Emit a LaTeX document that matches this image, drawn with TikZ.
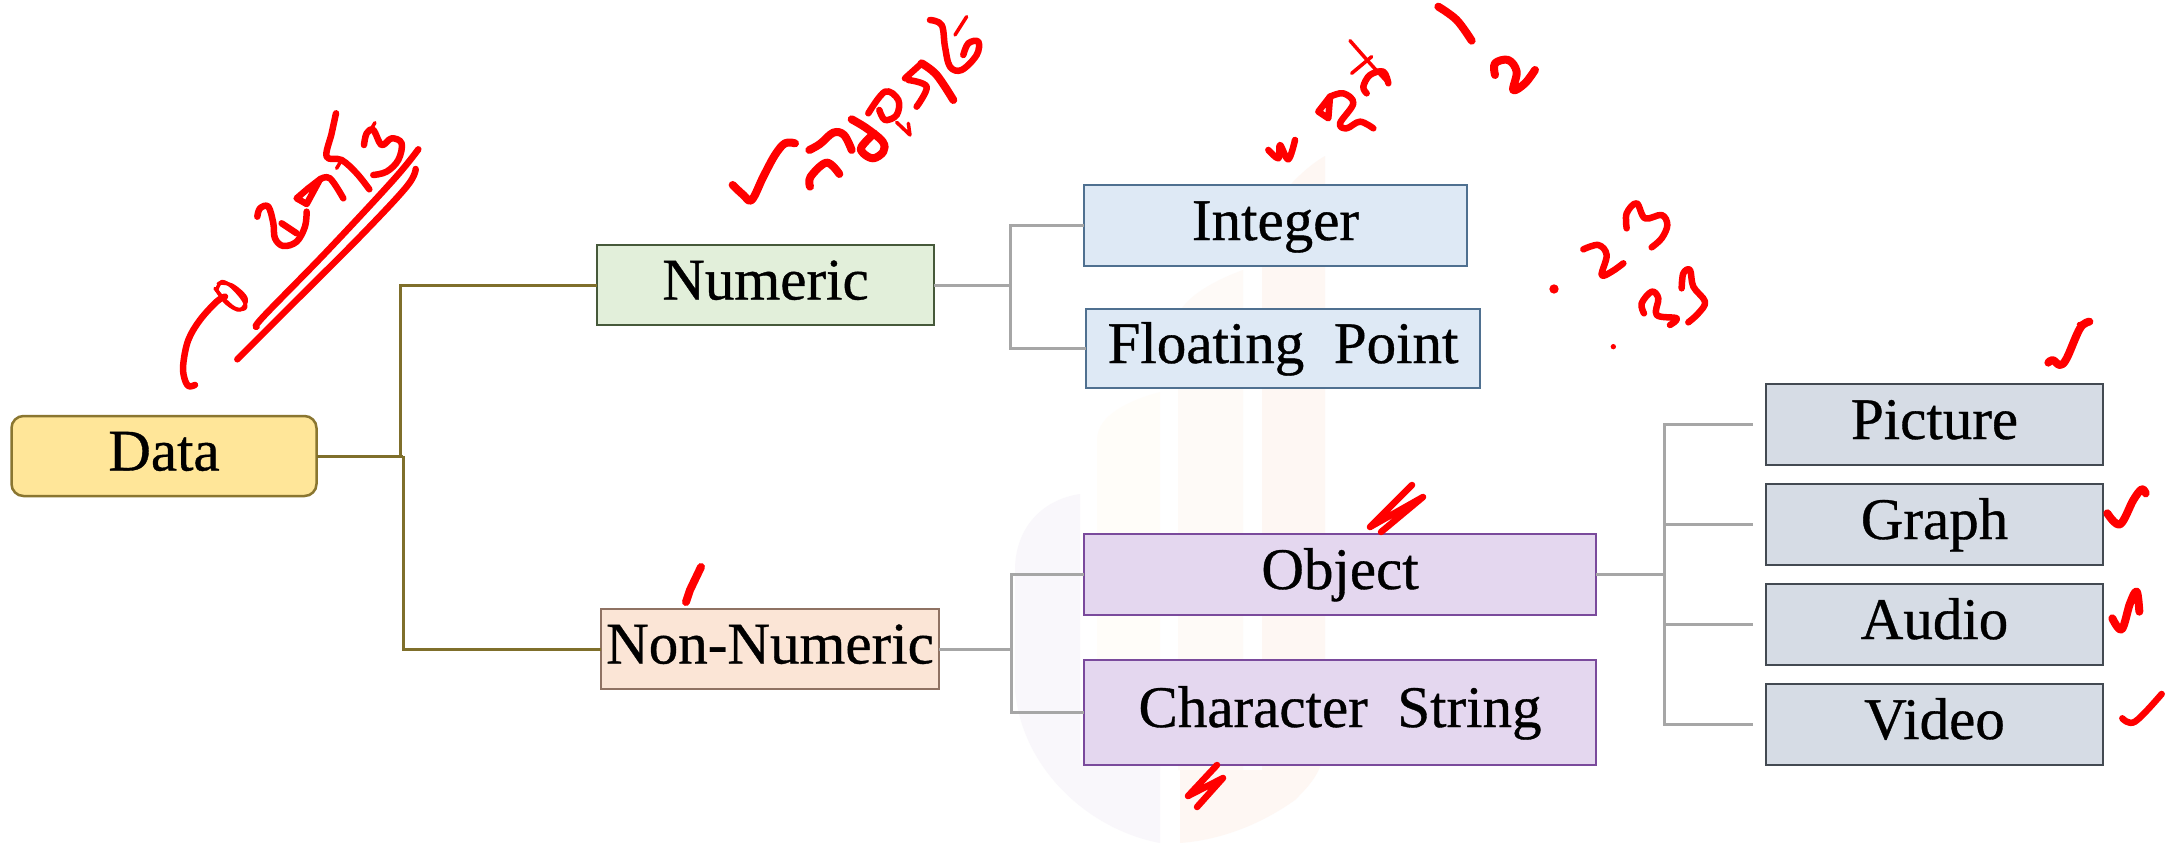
\documentclass[tikz,border=0pt]{standalone}
\usepackage{fontspec}
\setmainfont[WordSpace=2.0,RawFeature={embolden=0.6}]{Liberation Serif}
\definecolor{dataf}{HTML}{FFE699}\definecolor{datad}{HTML}{8A7630}
\definecolor{numf}{HTML}{E2EFDA}\definecolor{numd}{HTML}{46593A}
\definecolor{nonf}{HTML}{FBE5D6}\definecolor{nond}{HTML}{8F7263}
\definecolor{blf}{HTML}{DEE9F5}\definecolor{bld}{HTML}{4F7090}
\definecolor{puf}{HTML}{E4D7EF}\definecolor{pud}{HTML}{7A4A9C}
\definecolor{grf}{HTML}{D6DCE5}\definecolor{grd}{HTML}{434A52}
\definecolor{olive}{HTML}{7F6F2B}\definecolor{conn}{HTML}{A6A6A6}
\definecolor{wma}{HTML}{F9F7FB}\definecolor{wmb}{HTML}{FFFDF9}\definecolor{wmc}{HTML}{FEFAF7}\definecolor{wmd}{HTML}{FEF7F3}
\definecolor{ink}{HTML}{FF0000}
\tikzset{
  bx/.style={rectangle,line width=2.5pt,inner sep=0pt,outer sep=0pt,text height=29pt,text depth=0pt,
     font=\fontsize{59}{61}\selectfont,text=black},
  lnO/.style={draw=olive,line width=3pt},
  lnG/.style={draw=conn,line width=3pt},
  scr/.style={draw=ink,line width=6.5pt,line cap=round,line join=round},
  thk/.style={draw=ink,line width=8pt,line cap=round,line join=round},
  thn/.style={draw=ink,line width=3.5pt,line cap=round,line join=round},
  zm/.style={x=.3333pt,y=-.3333pt}
}
\newcommand\crv[2][scr]{\draw[#1] plot[smooth,tension=.6] coordinates {#2};}
\begin{document}
\begin{tikzpicture}[x=1pt,y=-1pt]
\useasboundingbox (0,0) rectangle (2167,843);
\fill[white] (0,0) rectangle (2167,843);
% watermark
\fill[wmd] (1262,770) -- (1262,240) .. controls (1262,210) and (1300,170) .. (1325,156) -- (1325,740) .. controls (1325,770) and (1310,785) .. (1295,800) .. controls (1260,825) and (1220,840) .. (1180,843) -- (1180,770) -- cycle;
\fill[wmc] (1178,770) -- (1178,320) .. controls (1178,300) and (1215,280) .. (1243,270) -- (1243,770) -- cycle;
\fill[wmb] (1097,770) -- (1097,440) .. controls (1097,415) and (1130,400) .. (1160,392) -- (1160,770) -- cycle;
\fill[wma] (1080,494) .. controls (1040,500) and (1015,530) .. (1015,570) -- (1015,690) .. controls (1022,770) and (1090,830) .. (1160,843) -- (1160,760) -- (1080,760) -- cycle;
% nodes
\node[bx,draw=datad,fill=dataf,rounded corners=12pt,minimum width=305pt,minimum height=80pt] (data) at (164,456) {Data};
\node[bx,draw=numd,fill=numf,minimum width=337pt,minimum height=80pt] (numeric) at (765.5,285) {Numeric};
\node[bx,draw=nond,fill=nonf,minimum width=338pt,minimum height=80pt] (nonnum) at (770,649) {Non-Numeric};
\node[bx,draw=bld,fill=blf,minimum width=383pt,minimum height=81pt] (integer) at (1275.5,225.5) {Integer};
\node[bx,draw=bld,fill=blf,minimum width=394pt,minimum height=79pt] (float) at (1283,348.5) {Floating Point};
\node[bx,draw=pud,fill=puf,minimum width=512pt,minimum height=81pt] (object) at (1340,574.5) {Object};
\node[bx,draw=pud,fill=puf,minimum width=512pt,minimum height=105pt] (charstr) at (1340,712.5) {Character String};
\node[bx,draw=grd,fill=grf,minimum width=337pt,minimum height=81pt] (picture) at (1934.5,424.5) {Picture};
\node[bx,draw=grd,fill=grf,minimum width=337pt,minimum height=81pt] (graph) at (1934.5,524.5) {Graph};
\node[bx,draw=grd,fill=grf,minimum width=337pt,minimum height=81pt] (audio) at (1934.5,624.5) {Audio};
\node[bx,draw=grd,fill=grf,minimum width=337pt,minimum height=81pt] (video) at (1934.5,724.5) {Video};
% connectors
\coordinate (j1) at (400,456);\coordinate (j2) at (403,456);
\coordinate (j3) at (1010,285);\coordinate (j4) at (1011,649);\coordinate (j5) at (1664,574.5);
\coordinate (e1) at (1753,424.5);\coordinate (e2) at (1753,524.5);\coordinate (e3) at (1753,624.5);\coordinate (e4) at (1753,724.5);
\draw[lnO] (data.east) -- (j2);
\draw[lnO] (j1) |- (numeric.west);
\draw[lnO] (j2) |- (nonnum.west);
\draw[lnG] (numeric.east) -- (j3);
\draw[lnG] (j3) |- (integer.west);
\draw[lnG] (j3) |- (float.west);
\draw[lnG] (nonnum.east) -- (j4);
\draw[lnG] (j4) |- (object.west);
\draw[lnG] (j4) |- (charstr.west);
\draw[lnG] (object.east) -- (j5);
\draw[lnG] (j5) |- (e1);
\draw[lnG] (j5) |- (e2);
\draw[lnG] (j5) |- (e3);
\draw[lnG] (j5) |- (e4);
% annotations
\begin{scope}[shift={(160,100)},zm]
\crv{(105,855)(85,858)(72,830)(70,790)(85,720)(120,660)(170,605)(195,590)}
\crv[thn]{(170,570)(185,545)(215,560)(250,600)(255,625)(225,625)(190,595)(165,565)}
\crv[thn]{(170,570)(200,610)(240,630)(258,595)(215,555)(175,550)}
\crv{(290,680)(310,650)(500,455)(700,240)(775,148)}
\crv{(232,778)(400,610)(600,410)(740,260)(767,207)}
\crv{(292,350)(300,325)(325,320)(340,370)(345,415)(370,438)(410,425)(435,380)(440,335)}
\crv{(365,370)(410,400)}
\draw[scr] (410,295) -- (445,265) -- (480,238) -- (440,312) -- cycle;
\crv{(480,238)(510,235)(550,295)}
\crv{(528,40)(515,100)(500,170)(545,180)(590,220)(628,268)}
\crv[thn]{(545,180)(530,205)}
\crv{(612,135)(620,100)(640,90)(665,135)(695,115)(725,130)(715,180)(680,215)(640,225)}
\crv[thn]{(635,85)(645,68)}
\end{scope}
\begin{scope}[shift={(720,0)},zm]
\crv[thk]{(38,555)(70,585)(95,600)(130,530)(165,465)(195,430)(225,430)}
\crv[thk]{(270,560)(272,530)(320,488)(358,522)}
\crv[thk]{(268,450)(300,432)(340,398)(372,405)(395,450)}
\crv[thk]{(395,358)(440,385)(488,425)(490,455)(460,475)(430,460)(425,440)(462,400)}
\crv{(445,340)(495,275)(535,300)(530,345)(495,360)(478,330)}
\draw[thn] (530,367) -- (570,405) -- (565,370);
\crv{(555,235)(605,190)}
\crv{(565,240)(620,260)(590,320)}
\crv[thk]{(605,190)(650,225)(700,300)}
\crv{(630,60)(665,75)(675,140)(690,200)(725,210)(770,165)(775,125)(745,130)(730,165)}
\crv[thn]{(705,105)(740,50)}
\end{scope}
\begin{scope}[shift={(1250,0)},zm]
\crv[thk]{(565,20)(620,60)(665,122)}
\crv[thk]{(735,225)(735,190)(775,180)(800,215)(790,270)(825,250)(855,210)}
\crv[thn]{(300,122)(360,190)(415,250)}
\crv[thn]{(305,220)(365,170)}
\crv{(350,280)(340,260)(360,225)(400,215)(415,250)}
\draw[scr] (205,335) -- (240,290) -- (235,355) -- cycle;
\crv{(240,290)(280,280)(310,310)(270,370)(290,385)(330,365)(370,385)}
\crv{(55,450)(85,475)(90,435)(115,478)(135,420)}
\end{scope}
\begin{scope}[shift={(1530,190)},zm]
\crv{(290,115)(290,70)(320,40)(345,85)(395,75)(412,105)(395,145)(365,172)}
\crv{(160,178)(205,165)(230,195)(215,255)(245,245)(280,220)}
\fill[ink] (72,297) circle (14);
\crv{(342,370)(335,340)(365,305)(385,325)(380,375)(440,385)(420,405)}
\crv{(455,295)(460,250)(480,240)(490,290)(525,335)(505,370)(475,397)}
\fill[ink] (250,470) circle (8);
\end{scope}
\begin{scope}[shift={(2030,310)},zm]
\crv[thk]{(55,158)(68,150)(90,165)(110,145)(150,55)(178,35)}
\crv[thn]{(145,42)(178,35)}
\end{scope}
\begin{scope}[shift={(2080,470)},zm]
\crv[thk]{(82,130)(120,163)(160,90)(185,58)(197,70)}
\crv[thk]{(97,445)(125,478)(150,400)(170,365)(178,425)}
\crv{(127,745)(165,755)(245,672)}
\end{scope}
\draw[thk] (701,567) -- (690,590) -- (686,602);
\draw[scr] (1412,485) -- (1370,527) -- (1423,497) -- (1381,532);
\draw[scr] (1217,765) -- (1188,796) -- (1223,778) -- (1197,807);
\end{tikzpicture}
\end{document}
